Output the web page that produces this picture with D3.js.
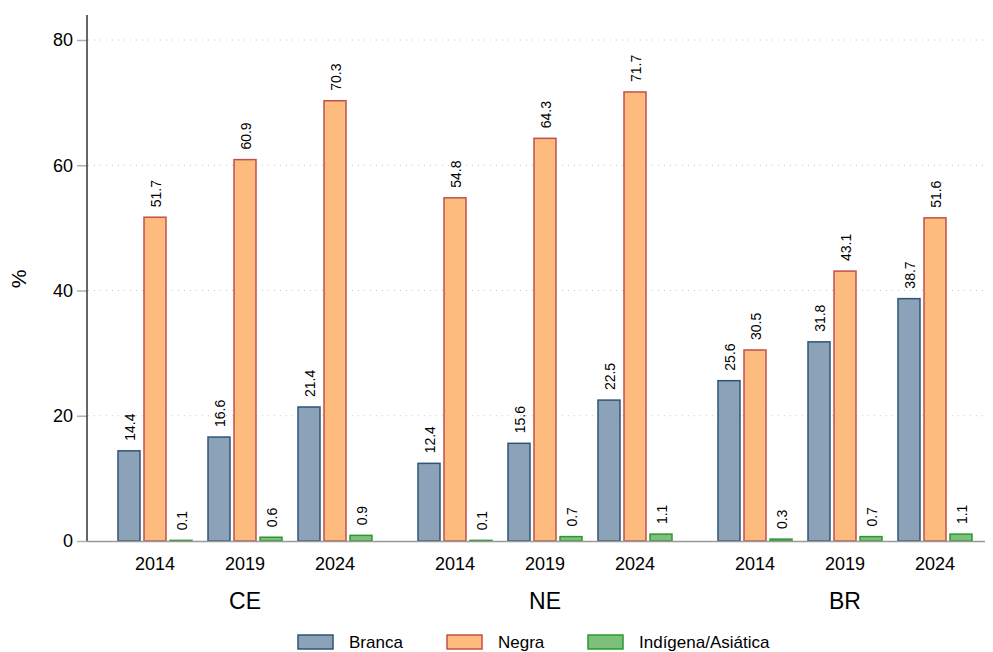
<!DOCTYPE html>
<html>
<head>
<meta charset="utf-8">
<script src="https://cdn.jsdelivr.net/npm/d3@7"></script>
<style>
  body { margin: 0; background: #fff; }
  text { font-family: "Liberation Sans", Arial, sans-serif; fill: #000; }
</style>
</head>
<body>
<svg id="chart" width="993" height="652"></svg>
<script>
// data
const regions = ["CE", "NE", "BR"];
const years = ["2014", "2019", "2024"];
const series = ["Branca", "Negra", "Indígena/Asiática"];
const branca = [14.4, 16.6, 21.4, 12.4, 15.6, 22.5, 25.6, 31.8, 38.7];
const negra = [51.7, 60.9, 70.3, 54.8, 64.3, 71.7, 30.5, 43.1, 51.6];
const indigena = [0.1, 0.6, 0.9, 0.1, 0.7, 1.1, 0.3, 0.7, 1.1];
const yTicks = [0, 20, 40, 60, 80];

const fills = ["#8ca2b8", "#fdbb7e", "#7cc07c"];
const strokes = ["#2f5475", "#c0504d", "#2a9a2a"];

var svg = d3.select("#chart");

var y = d3.scaleLinear().domain([0, 80]).range([541, 40]);
var xRegion = d3.scaleBand().domain(regions).range([95, 995]);
var xYear = d3.scaleBand().domain(years).range([15, 285]);
var xSeries = d3.scaleBand().domain(series).range([8, 82]).paddingInner(0.154);

// gridlines
svg.append("g")
    .selectAll("line")
    .data(yTicks.filter(d => d > 0))
    .join("line")
    .attr("x1", 88).attr("x2", 985)
    .attr("y1", d => y(d)).attr("y2", d => y(d))
    .attr("stroke", "#c8c8c8")
    .attr("stroke-width", 1)
    .attr("stroke-dasharray", "1,5");

// y axis
var yAxis = svg.append("g")
    .attr("transform", "translate(87,0)")
    .call(d3.axisLeft(y).tickValues(yTicks).tickSize(10).tickPadding(4));
yAxis.select(".domain").remove();
yAxis.selectAll(".tick line").attr("stroke", "#b0b0b0").attr("stroke-width", 1.5);
yAxis.selectAll(".tick text")
    .style("font-family", "Liberation Sans, Arial, sans-serif")
    .attr("font-size", "18px").attr("fill", "#000");

svg.append("line")
    .attr("x1", 87).attr("x2", 87).attr("y1", 15).attr("y2", 541)
    .attr("stroke", "#333").attr("stroke-width", 1.5);

svg.append("text")
    .attr("transform", "translate(26,279) rotate(-90)")
    .attr("text-anchor", "middle")
    .attr("font-size", "21px")
    .text("%");

// rows
var rows = [];
regions.forEach(function (r, ri) {
    years.forEach(function (yr, yi) {
        var idx = ri * 3 + yi;
        var vals = [branca[idx], negra[idx], indigena[idx]];
        series.forEach(function (s, si) {
            rows.push({ region: r, year: yr, s: s, si: si, v: vals[si] });
        });
    });
});

var xOf = d => xRegion(d.region) + xYear(d.year) + xSeries(d.s);

svg.append("g")
    .selectAll("rect")
    .data(rows)
    .join("rect")
    .attr("x", d => xOf(d))
    .attr("y", d => y(d.v))
    .attr("width", xSeries.bandwidth())
    .attr("height", d => y(0) - y(d.v))
    .attr("fill", d => fills[d.si])
    .attr("stroke", d => strokes[d.si])
    .attr("stroke-width", 1.5);

svg.append("g")
    .selectAll("text")
    .data(rows)
    .join("text")
    .attr("transform", d => "translate(" + (xOf(d) + xSeries.bandwidth() / 2 + 1) + "," + (y(d.v) - 10) + ") rotate(-90)")
    .attr("text-anchor", "start")
    .attr("dy", "0.35em")
    .attr("font-size", "14px")
    .text(d => d.v.toFixed(1));

// x axis line
svg.append("line")
    .attr("x1", 87).attr("x2", 985).attr("y1", 541.5).attr("y2", 541.5)
    .attr("stroke", "#999").attr("stroke-width", 1.5);

// year labels
regions.forEach(function (r) {
    years.forEach(function (yr) {
        svg.append("text")
            .attr("x", xRegion(r) + xYear(yr) + xYear.bandwidth() / 2)
            .attr("y", 570)
            .attr("text-anchor", "middle")
            .attr("font-size", "18px")
            .text(yr);
    });
    svg.append("text")
        .attr("x", xRegion(r) + xRegion.bandwidth() / 2)
        .attr("y", 609)
        .attr("text-anchor", "middle")
        .attr("font-size", "23px")
        .text(r);
});

// legend
var legX = [298, 447, 588];
var legend = svg.append("g");
series.forEach(function (s, i) {
    legend.append("rect")
        .attr("x", legX[i]).attr("y", 635)
        .attr("width", 35).attr("height", 14)
        .attr("fill", fills[i]).attr("stroke", strokes[i]).attr("stroke-width", 1.5);
    legend.append("text")
        .attr("x", legX[i] + 51).attr("y", 648)
        .attr("font-size", "17px")
        .text(s);
});
</script>
</body>
</html>
